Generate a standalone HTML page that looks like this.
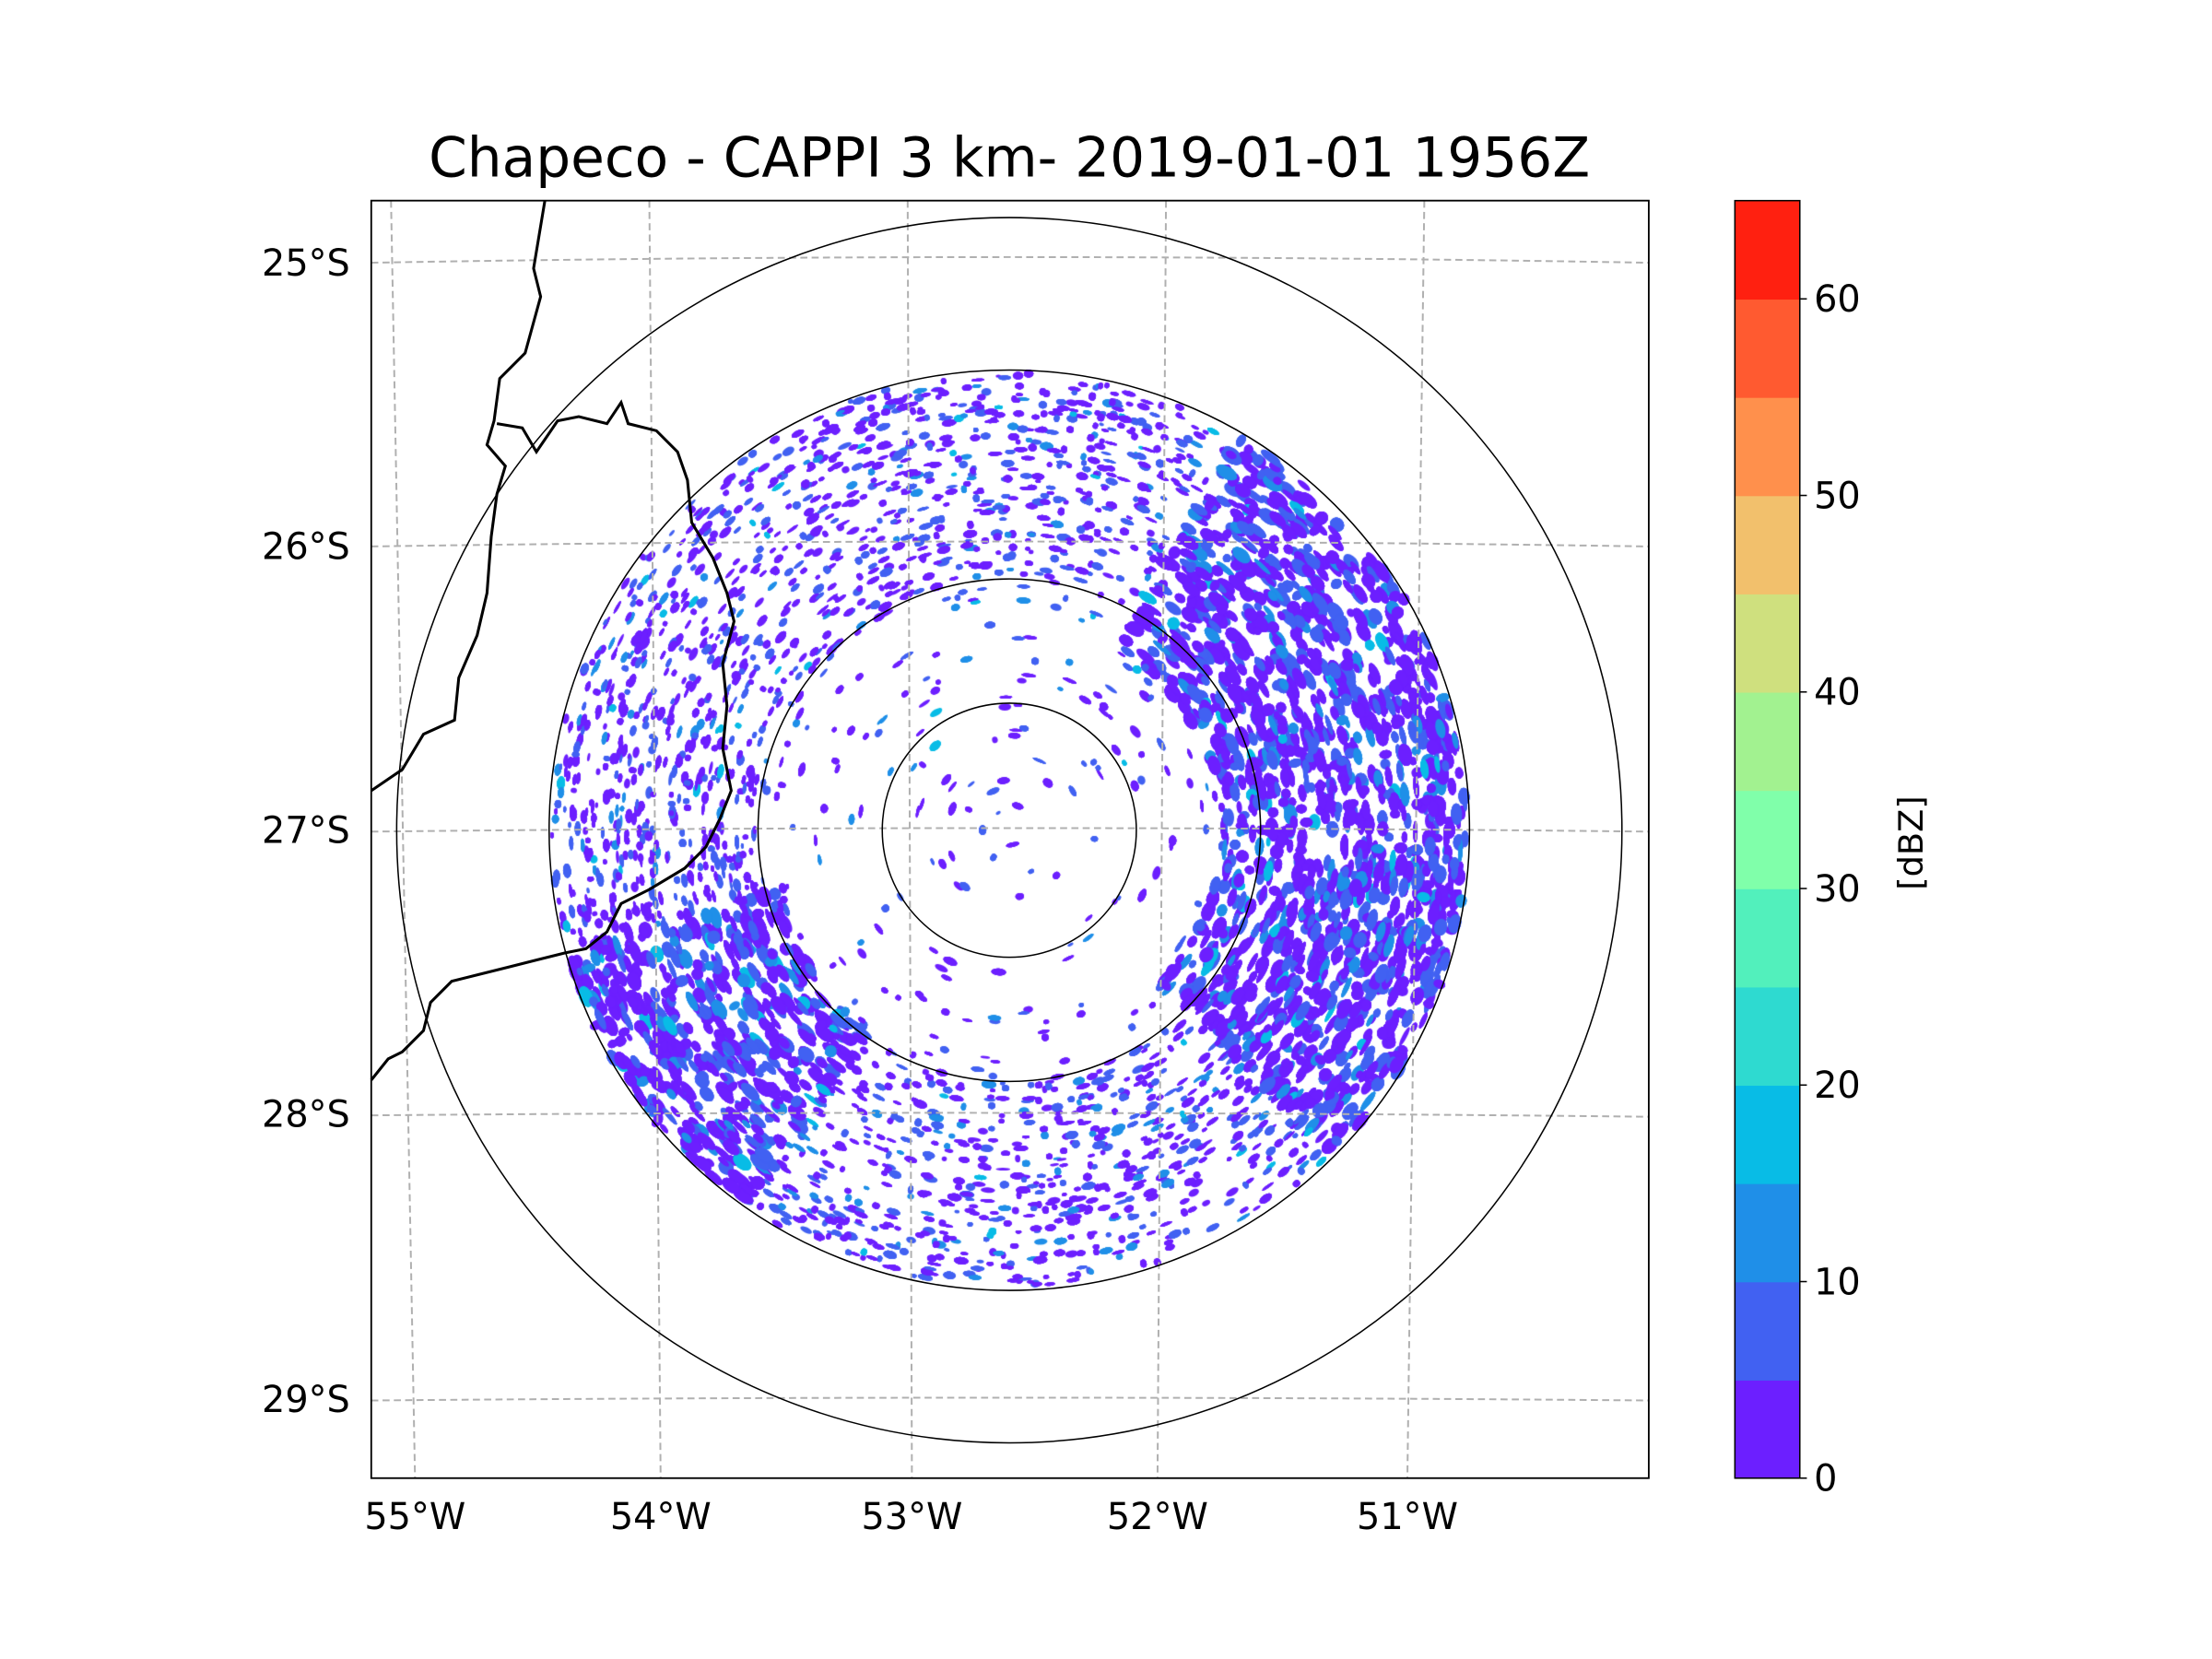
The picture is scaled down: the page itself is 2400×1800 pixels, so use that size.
<!DOCTYPE html>
<html><head><meta charset="utf-8"><style>
html,body{margin:0;padding:0;background:#fff;}
#wrap{position:relative;width:2400px;height:1800px;}
svg,canvas{position:absolute;left:0;top:0;}
</style></head><body>
<div id="wrap">
<canvas id="cv" width="2400" height="1800"></canvas>
<svg id="sv" width="2400" height="1800" viewBox="0 0 1567 1175" font-family="'DejaVu Sans', 'Liberation Sans', sans-serif">
<text x="715" y="125" font-size="39" text-anchor="middle">Chapeco - CAPPI 3 km- 2019-01-01 1956Z</text>
<g id="grid" stroke="#b0b0b0" stroke-width="1.3" stroke-dasharray="5,3" fill="none">
<path d="M263,186 Q715,178 1168,186"/><path d="M263,387 Q715,380 1168,387"/><path d="M263,589 Q715,584 1168,589"/><path d="M263,790 Q715,786 1168,791"/><path d="M263,992 Q715,988 1168,992"/>
<path d="M277,142 L294,1047"/><path d="M460,142 L468,1047"/><path d="M643,142 L646,1047"/><path d="M826,142 L820,1047"/><path d="M1009,142 L997,1047"/>
</g>
<g fill="none" stroke="#000" stroke-width="1">
<circle cx="715" cy="588" r="90"/><circle cx="715" cy="588" r="178"/><circle cx="715" cy="588" r="326"/><circle cx="715" cy="588" r="434"/>
</g>
<g fill="none" stroke="#000" stroke-width="2">
<path d="M386,142 L378,190 L383,210 L372,250 L354,268 L350,298 L345,315 L358,330 L352,350 L348,380 L345,420 L338,450 L325,480 L322,510 L300,520 L285,545 L263,560"/>
<path d="M352,300 L370,303 L380,320 L395,298 L410,295 L430,300 L440,285 L445,300 L465,305 L480,320 L487,340 L490,370 L505,395 L515,420 L520,440 L512,470 L515,500 L512,530 L518,560 L510,580 L500,600 L485,615 L460,630 L440,640 L430,660 L415,672 L400,675 L380,680 L360,685 L340,690 L320,695 L305,710 L300,730 L285,745 L275,750 L263,765"/>
</g>
<rect x="263" y="142" width="905" height="905" fill="none" stroke="#000" stroke-width="1.2"/>
<g font-size="26" text-anchor="end">
<text x="248" y="195">25°S</text><text x="248" y="396">26°S</text><text x="248" y="597">27°S</text><text x="248" y="798">28°S</text><text x="248" y="1000">29°S</text>
</g>
<g font-size="26" text-anchor="middle">
<text x="294" y="1083">55°W</text><text x="468" y="1083">54°W</text><text x="646" y="1083">53°W</text><text x="820" y="1083">52°W</text><text x="997" y="1083">51°W</text>
</g>
<g id="cbar"></g>
<text transform="translate(1362,597) rotate(-90)" font-size="24" text-anchor="middle">[dBZ]</text>
</svg>
</div>
<script>
const cbColors=["#6c1fff","#4161f2","#1f8fe8","#08bce6","#2edad0","#52f0bc","#80ffaa","#a2f290","#cfe07e","#f2c06c","#ff904c","#ff5a30","#ff2010"];
const cbTicks=[0,10,20,30,40,50,60];
const NS="http://www.w3.org/2000/svg";
const cb=document.getElementById('cbar');
const cbTop=142,cbBot=1047,cbX=1229,cbW=46,vmax=65;
const yv=v=>cbBot-(v/vmax)*(cbBot-cbTop);
cbColors.forEach((c,i)=>{const r=document.createElementNS(NS,'rect');
r.setAttribute('x',cbX);r.setAttribute('y',yv((i+1)*5));r.setAttribute('width',cbW);r.setAttribute('height',yv(i*5)-yv((i+1)*5)+0.5);r.setAttribute('fill',c);


cb.appendChild(r);});
const fr=document.createElementNS(NS,'rect');fr.setAttribute('x',cbX);fr.setAttribute('y',cbTop);fr.setAttribute('width',cbW);fr.setAttribute('height',cbBot-cbTop);fr.setAttribute('fill','none');fr.setAttribute('stroke','#000');


cb.appendChild(fr);
cbTicks.forEach(v=>{const l=document.createElementNS(NS,'line');l.setAttribute('x1',cbX+cbW);l.setAttribute('x2',cbX+cbW+5);l.setAttribute('y1',yv(v));l.setAttribute('y2',yv(v));l.setAttribute('stroke','#000');


cb.appendChild(l);
const t=document.createElementNS(NS,'text');t.setAttribute('x',cbX+cbW+10);t.setAttribute('y',yv(v)+9);t.setAttribute('font-size','26');t.textContent=v;


cb.appendChild(t);});
// radar speckle (decorative)
const cv=document.getElementById('cv'),ctx=cv.getContext('2d');
const S=2400/1567;ctx.scale(S,S);
ctx.beginPath();ctx.rect(263,142,905,905);ctx.clip();
let seed=12345;const rnd=()=>{seed=(seed*1103515245+12345)%2147483648;return seed/2147483648;};
const rcx=715,rcy=588;
function dens(r,a){
 if(r>324)return 0;
 let d=r<90?0.05:(r<178?0.12:0.55);
 const ad=((a%360)+360)%360;
 if(r>150&&(ad>300||ad<45))d=0.97;
 if(r>170&&ad>125&&ad<165)d=0.97;
 if(r>178&&ad>165&&ad<215)d=0.75;
 if(r>178&&ad>240&&ad<290)d=0.65;
 return d;}
for(let i=0;i<32000;i++){
 const r=Math.sqrt(rnd())*330,a=rnd()*360;
 if(rnd()>dens(r,a))continue;
 const ar=a*Math.PI/180,x=rcx+r*Math.cos(ar),y=rcy+r*Math.sin(ar);
 const dd=dens(r,a);
 const u=rnd();
 ctx.fillStyle=u<0.62?cbColors[0]:(u<0.9?cbColors[1]:(u<0.98?cbColors[2]:cbColors[3]));
 ctx.beginPath();
 ctx.ellipse(x,y,(dd>0.9?5.5:3.5)*(0.5+rnd()),(dd>0.9?3.2:1.9)*(0.5+rnd()),ar+Math.PI/2,0,Math.PI*2);
 ctx.fill();}
</script>
</body></html>
